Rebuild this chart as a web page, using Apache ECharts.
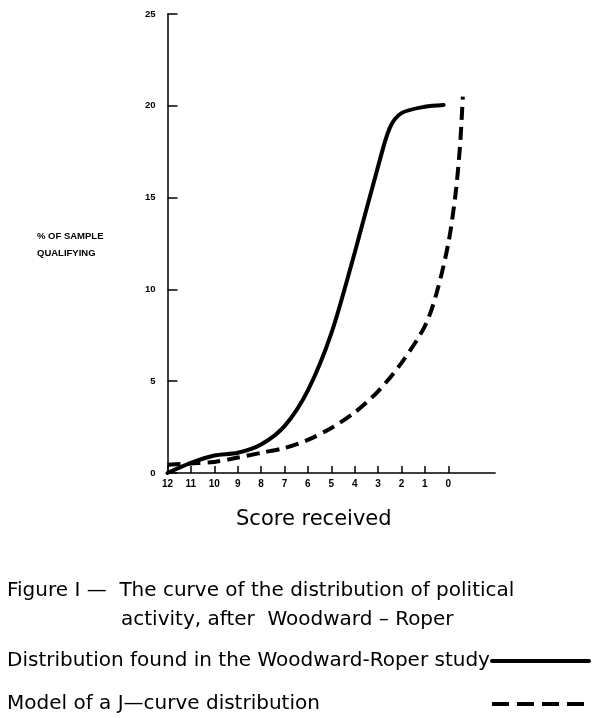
<!DOCTYPE html>
<html>
<head>
<meta charset="utf-8">
<script src="https://cdn.jsdelivr.net/npm/echarts@6/dist/echarts.min.js"></script>
<style>
html,body{margin:0;padding:0;background:#fff;}
#chart{width:600px;height:718px;}
</style>
</head>
<body>
<div id="chart"></div>
<script>
// Score received (x) and % of sample qualifying (y)
const scoreTicks = [12, 11, 10, 9, 8, 7, 6, 5, 4, 3, 2, 1, 0];
const pctTicks = [0, 5, 10, 15, 20, 25];

const solidName = 'Distribution found in the Woodward-Roper study';
const solidScore = [12, 11, 10, 9, 8, 7, 6, 5, 4, 3, 2.5, 2, 1, 0.2];
const solidPct   = [0, 0.55, 0.95, 1.1, 1.55, 2.55, 4.5, 7.6, 12.0, 16.7, 18.8, 19.6, 19.95, 20.05];

const jName = 'Model of a J\u2014curve distribution';
const jScore = [12, 11, 10, 9, 8, 7, 6, 5, 4, 3, 2, 1, 0.5, 0, -0.3, -0.5, -0.62];
const jPct   = [0.45, 0.52, 0.6, 0.84, 1.1, 1.36, 1.8, 2.45, 3.3, 4.45, 6.0, 8.0, 9.8, 12.5, 15.1, 17.8, 20.5];

const FONT = '"DejaVu Sans", sans-serif';
const SMALL = '"Liberation Sans", Arial, sans-serif';
const chart = echarts.init(document.getElementById('chart'), null, {renderer: 'canvas'});
chart.setOption({
  backgroundColor: '#fff',
  animation: false,
  title: [
    {text: '% OF SAMPLE\nQUALIFYING', left: 37, top: 228, padding: 0,
     textStyle: {fontSize: 9.5, fontWeight: 'bold', color: '#000', fontFamily: SMALL, lineHeight: 17}},
    {text: 'Figure I \u2014  The curve of the distribution of political', left: 7, top: 581, padding: 0,
     textStyle: {fontSize: 20, fontWeight: 'normal', color: '#000', fontFamily: FONT}},
    {text: 'activity, after  Woodward \u2013 Roper', left: 121, top: 610, padding: 0,
     textStyle: {fontSize: 20, fontWeight: 'normal', color: '#000', fontFamily: FONT}}
  ],
  legend: {
    orient: 'vertical', left: 7, top: 650, align: 'right', padding: 0,
    itemWidth: 97, itemHeight: 14, itemGap: 21,
    itemStyle: {opacity: 0},
    lineStyle: {width: 4, color: '#000'},
    data: [
      {name: solidName},
      {name: jName, lineStyle: {width: 4, color: '#000', type: [17, 8]}}
    ],
    formatter: name => '{t|' + name + '}',
    textStyle: {fontSize: 20, color: '#000', fontFamily: FONT, lineHeight: 22,
                rich: {t: {width: 480, align: 'left', fontSize: 20, color: '#000', fontFamily: FONT, lineHeight: 22}}}
  },
  grid: {left: 167.5, top: 14, width: 327.6, height: 459},
  xAxis: {
    type: 'value', inverse: true, min: -2, max: 12,
    name: 'Score received', nameLocation: 'middle', nameGap: 36,
    nameTextStyle: {fontSize: 21, color: '#000', fontFamily: FONT, padding: [0, 35, 0, 0]},
    axisLine: {lineStyle: {color: '#000', width: 1.5}},
    axisTick: {inside: true, length: 7, lineStyle: {color: '#000', width: 1.5}, customValues: scoreTicks},
    axisLabel: {customValues: scoreTicks, color: '#000', fontSize: 10, fontWeight: 'bold', margin: 6,
                fontFamily: SMALL},
    splitLine: {show: false}
  },
  yAxis: {
    type: 'value', min: 0, max: 25, interval: 5,
    axisLine: {show: true, onZero: false, lineStyle: {color: '#000', width: 1.5}},
    axisTick: {show: true, inside: true, length: 10, lineStyle: {color: '#000', width: 1.5}},
    axisLabel: {color: '#000', fontSize: 9.5, fontWeight: 'bold', margin: 12, fontFamily: SMALL},
    splitLine: {show: false}
  },
  series: [
    {name: solidName, type: 'line', symbol: 'none', smooth: 0.3,
     data: solidScore.map((s, i) => [s, solidPct[i]]),
     lineStyle: {color: '#000', width: 4, cap: 'round'}, itemStyle: {color: '#000'}},
    {name: jName, type: 'line', symbol: 'none', smooth: 0.3,
     data: jScore.map((s, i) => [s, jPct[i]]),
     lineStyle: {color: '#000', width: 4, type: [13, 7]}, itemStyle: {color: '#000'}}
  ]
});
</script>
</body>
</html>
